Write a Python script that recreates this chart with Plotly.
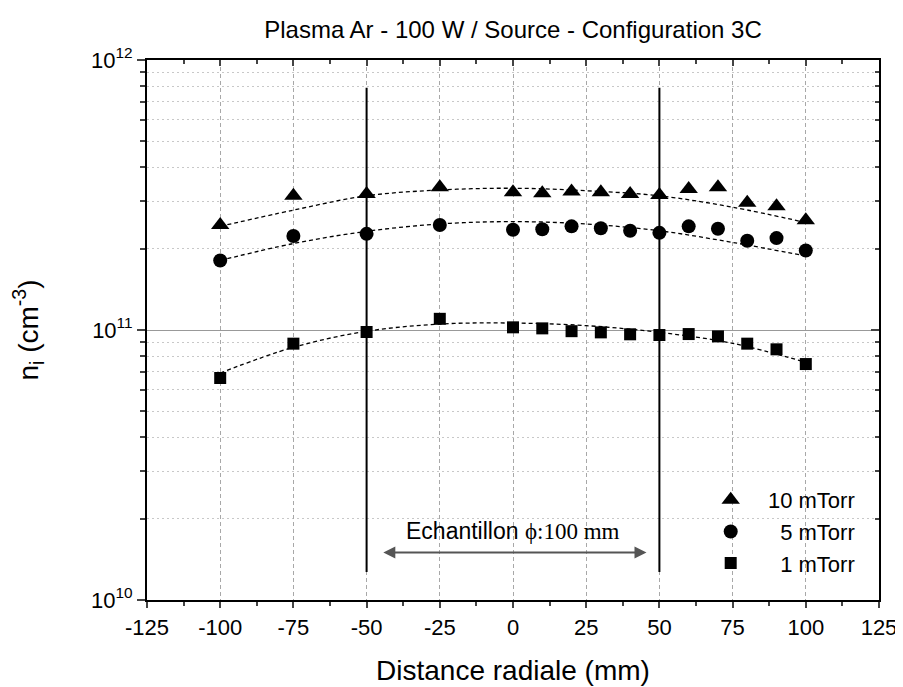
import numpy as np
import plotly.graph_objects as go

# radial positions (mm)
x_pos = [-100, -75, -50, -25, 0, 10, 20, 30, 40, 50, 60, 70, 80, 90, 100]

# ion density n_i (cm-3) for each pressure
ni_10mtorr = [2.45e11, 3.14e11, 3.19e11, 3.38e11, 3.24e11, 3.21e11, 3.26e11, 3.24e11,
              3.19e11, 3.16e11, 3.33e11, 3.38e11, 2.96e11, 2.87e11, 2.55e11]
ni_5mtorr = [1.81e11, 2.23e11, 2.27e11, 2.45e11, 2.35e11, 2.36e11, 2.42e11, 2.38e11,
             2.33e11, 2.29e11, 2.42e11, 2.37e11, 2.14e11, 2.19e11, 1.97e11]
ni_1mtorr = [0.664e11, 0.89e11, 0.983e11, 1.10e11, 1.023e11, 1.014e11, 0.99e11, 0.98e11,
             0.964e11, 0.958e11, 0.966e11, 0.947e11, 0.89e11, 0.848e11, 0.748e11]

# dashed fit curves
x_fit = [-100, -75, -50, -25, 0, 25, 50, 75, 100]
fit_10mtorr = [2.42e11, 2.78e11, 3.14e11, 3.30e11, 3.35e11, 3.28e11, 3.14e11, 2.85e11, 2.50e11]
fit_5mtorr = [1.81e11, 2.09e11, 2.32e11, 2.47e11, 2.52e11, 2.47e11, 2.33e11, 2.11e11, 1.88e11]
fit_1mtorr = [0.693e11, 0.863e11, 0.989e11, 1.052e11, 1.061e11, 1.038e11, 0.98e11, 0.893e11, 0.759e11]

series = [
    ('\u200710 mTorr', ni_10mtorr, fit_10mtorr, 'triangle-up', 16),
    ('\u2007\u20075 mTorr', ni_5mtorr, fit_5mtorr, 'circle', 14),
    ('\u2007\u20071 mTorr', ni_1mtorr, fit_1mtorr, 'square', 12),
]

# sample edges (phi = 100 mm)
sample_edges = [-50, 50]
edge_line_y = [7.9e11, 1.27e10]
arrow_x = [-44.8, 45.6]
arrow_y = 1.5e10
label_y = 1.8e10

fig = go.Figure()

for name, vals, fit, sym, size in series:
    fig.add_trace(go.Scatter(x=x_fit, y=fit, mode='lines', line_shape='spline',
                             line=dict(color='black', width=1.3, dash='4px,3px'),
                             showlegend=False, hoverinfo='skip'))

for name, vals, fit, sym, size in series:
    fig.add_trace(go.Scatter(x=x_pos, y=vals, mode='markers', name=name,
                             marker=dict(symbol=sym, size=size, color='black')))

for xe in sample_edges:
    fig.add_trace(go.Scatter(x=[xe, xe], y=edge_line_y, mode='lines',
                             line=dict(color='black', width=2), showlegend=False))

# invisible trace to hold the mirror axes
fig.add_trace(go.Scatter(x=[0], y=[1e11], xaxis='x2', yaxis='y2', mode='markers',
                         marker=dict(opacity=0), showlegend=False, hoverinfo='skip'))

fig.add_annotation(x=arrow_x[1], y=np.log10(arrow_y), ax=arrow_x[0], ay=np.log10(arrow_y),
                   xref='x', yref='y', axref='x', ayref='y', text='', showarrow=True,
                   arrowside='end+start', arrowhead=2, arrowsize=1.2, arrowwidth=2,
                   arrowcolor='#555555')
fig.add_annotation(x=0, y=np.log10(label_y), xref='x', yref='y', showarrow=False,
                   text='Echantillon <span style="font-family:Liberation Serif">\u03d5:100 mm</span>',
                   font=dict(family='Liberation Sans', size=23, color='black'))

minor_y = [m * 10 ** e for e in (10, 11) for m in range(2, 10)]
ticks_y = [1e10, 1e11, 1e12]
ticks_y_text = ['10<sup>10</sup>', '10<sup>11</sup>', '10<sup>12</sup>']
ticks_x = list(range(-125, 126, 25))
ticks_x_text = [str(v) for v in ticks_x]
minor_x = [v + 12.5 for v in ticks_x[:-1]]

# the page body adds an 8px offset, margins below account for it
fig.update_layout(
    width=903, height=687,
    margin=dict(l=139, r=32, t=52, b=95),
    paper_bgcolor='white', plot_bgcolor='white',
    font=dict(family='Liberation Sans', color='black'),
    title=dict(text='Plasma Ar - 100 W / Source - Configuration 3C', x=505 / 903, xanchor='center',
               y=1 - 22 / 687, yanchor='middle', yref='container',
               font=dict(size=24)),
    showlegend=True,
    legend=dict(x=0.975, xanchor='right', y=0.224, yanchor='top', bgcolor='rgba(0,0,0,0)',
                font=dict(size=22), itemwidth=40, tracegroupgap=0),
    xaxis=dict(range=[-125, 125], tickvals=ticks_x, ticktext=ticks_x_text, ticks='outside',
               ticklen=6, tickwidth=2, tickfont=dict(size=22), ticklabelstandoff=1,
               showline=True, linecolor='black', linewidth=2, automargin=False,
               mirror=True, showgrid=True, gridcolor='#a8a8a8', gridwidth=1, griddash='4px,3px',
               zeroline=False,
               minor=dict(tickvals=minor_x, ticks='outside', ticklen=4, tickwidth=2, showgrid=False),
               title=dict(text='Distance radiale (mm)', font=dict(size=28), standoff=21)),
    yaxis=dict(type='log', range=[10, 12], tickvals=ticks_y, ticktext=ticks_y_text,
               ticks='outside', ticklen=8, tickwidth=2, tickfont=dict(size=22), ticklabelstandoff=0,
               showline=True, linecolor='black', linewidth=2, mirror=True, automargin=False,
               showgrid=True, gridcolor='#999999', gridwidth=1,
               minor=dict(tickvals=minor_y, ticks='outside', ticklen=5, tickwidth=2,
                          showgrid=True, gridcolor='#c8c8c8', griddash='2px,3px'),
               title=dict(text='n<sub>i</sub> (cm<sup>-3</sup>)', font=dict(size=28), standoff=48)),
    xaxis2=dict(overlaying='x', side='top', range=[-125, 125], tickvals=ticks_x,
                ticks='inside', ticklen=6, tickwidth=2, showticklabels=False, showgrid=False,
                zeroline=False, automargin=False,
                minor=dict(tickvals=minor_x, ticks='inside', ticklen=4, tickwidth=2)),
    yaxis2=dict(overlaying='y', side='right', type='log', range=[10, 12], tickvals=ticks_y,
                ticks='inside', ticklen=8, tickwidth=2, showticklabels=False, showgrid=False,
                automargin=False,
                minor=dict(tickvals=minor_y, ticks='inside', ticklen=4, tickwidth=2)),
)

fig.write_html("out.html")
